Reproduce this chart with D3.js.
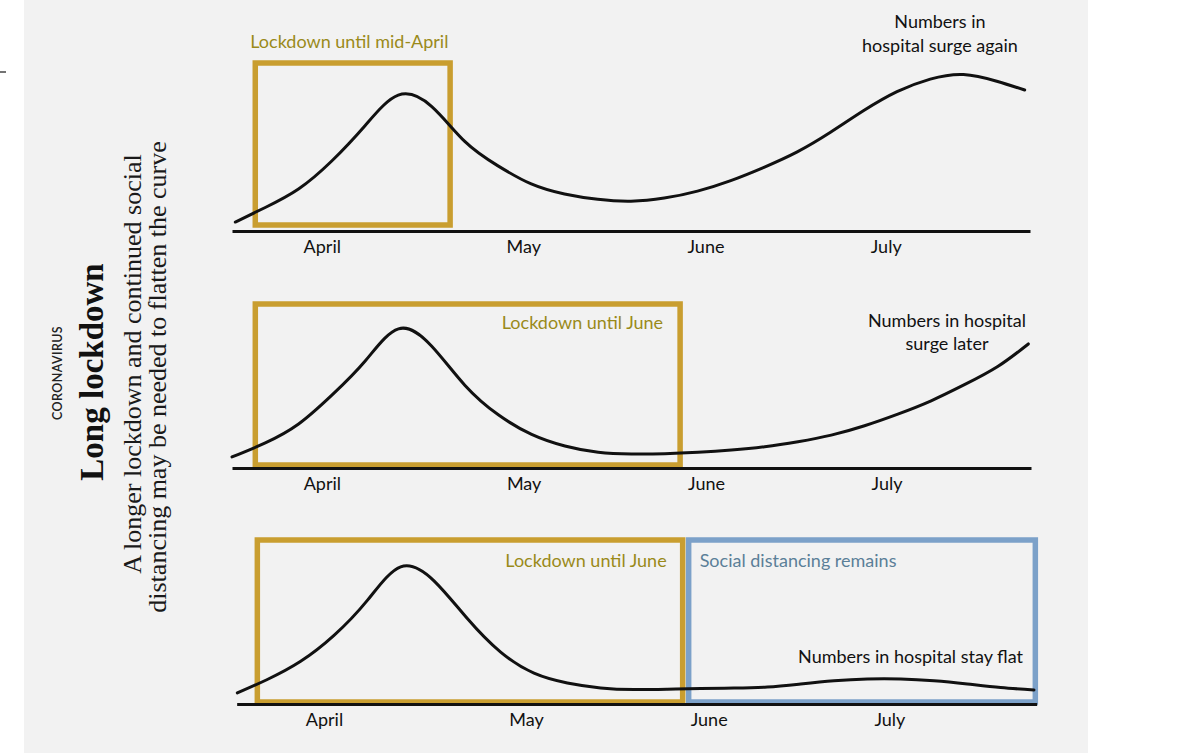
<!DOCTYPE html>
<html>
<head>
<meta charset="utf-8">
<script src="https://cdn.jsdelivr.net/npm/d3@7"></script>
<style>
  html, body { margin: 0; padding: 0; background: #ffffff; }
  svg { display: block; }
</style>
</head>
<body>
<svg id="chart" width="1200" height="753"></svg>
<script>
// ---------- data ----------
const monthNames = ["April", "May", "June", "July"];
const monthDays = [13.5, 43.8, 71.2, 98.3];

// scenario 1: lockdown until mid-April
const daysA = [0.5, 5, 10, 15, 20, 25, 30, 35, 40, 45, 50, 55, 60, 65, 70, 75, 80, 85, 90, 95, 100, 105, 110, 115, 119.2];
const surgeAgain = [6.4, 16.8, 30, 50, 75.2, 97, 89, 64, 46.5, 33.6, 26.4, 22.6, 21.3, 23.5, 28.5, 36, 45.5, 56.5, 70.5, 86, 99.5, 108.5, 111.8, 107, 100.7];

// scenario 2: lockdown until June
const daysB = [0, 5, 10, 15, 20, 25, 30, 35, 40, 45, 50, 55, 60, 65, 70, 75, 80, 85, 90, 95, 100, 105, 110, 115, 119.6];
const surgeLater = [7.9, 17.9, 31.4, 52, 76.4, 99.4, 87, 59, 38, 24, 15.7, 11.2, 10, 10.2, 11.2, 12.8, 15.2, 18.8, 23.5, 30.2, 38.5, 48, 59.5, 72.5, 88.6];

// scenario 3: lockdown until June, then social distancing
const daysC = [0.5, 5, 10, 15, 20, 25, 30, 35, 40, 45, 50, 55, 60, 65, 70, 75, 80, 85, 90, 95, 100, 105, 110, 115, 120];
const stayFlat = [7.9, 17.5, 30.5, 49, 74, 98, 88, 61, 37, 22, 15, 11.5, 10.3, 10.6, 11.1, 11.4, 12.1, 14.3, 16.6, 17.9, 17.9, 16.6, 14.3, 11.8, 10];

// phases (in days)
const midAprilLockdown = [3.5, 32.8];
const juneLockdown = [3.5, 67.3];
const distancingPhase = [68.2, 120.2];

// ---------- style ----------
const GOLD = "#c99e30";
const GOLD_TEXT = "#9a8a1a";
const BLUE = "#7ca1c9";
const BLUE_TEXT = "#5b7f98";
const SANS = "Lato, 'Open Sans', sans-serif";
const SERIF = "'Liberation Serif', 'DejaVu Serif', serif";

const svg = d3.select("#chart");

// background panel
svg.append("rect").attr("x", 24).attr("y", 0).attr("width", 1064).attr("height", 753).attr("fill", "#f2f2f2");
svg.append("line").attr("x1", 0).attr("x2", 6).attr("y1", 72).attr("y2", 72).attr("stroke", "#444").attr("stroke-width", 1.5);

// ---------- title block (rotated) ----------
function vtext(x, y, txt, size, family, weight, fill) {
  return svg.append("text")
    .attr("transform", `translate(${x},${y}) rotate(-90)`)
    .attr("text-anchor", "middle")
    .attr("font-family", family)
    .attr("font-size", size)
    .attr("font-weight", weight)
    .attr("fill", fill)
    .text(txt);
}
vtext(62, 373, "CORONAVIRUS", 12.5, SANS, 600, "#222").attr("letter-spacing", 0.4);
vtext(103, 372, "Long lockdown", 33, SERIF, 700, "#111");
vtext(141, 364, "A longer lockdown and continued social", 26, SERIF, 400, "#1a1a1a");
vtext(166, 377, "distancing may be needed to flatten the curve", 26, SERIF, 400, "#1a1a1a");

// ---------- panels ----------
const panels = [
  { axisY: 231, x0: 232, x1: 1030, days: daysA, values: surgeAgain,
    boxes: [{ range: midAprilLockdown, color: GOLD, top: 168, bottom: 6 }] },
  { axisY: 468, x0: 232, x1: 1031, days: daysB, values: surgeLater,
    boxes: [{ range: juneLockdown, color: GOLD, top: 164, bottom: 3 }] },
  { axisY: 704, x0: 234, x1: 1034, days: daysC, values: stayFlat, axisStart: 0.4, axisEnd: 120.4,
    boxes: [{ range: juneLockdown, color: GOLD, top: 164, bottom: 2 },
            { range: distancingPhase, color: BLUE, top: 164, bottom: 2 }] }
];

panels.forEach((p, i) => {
  const x = d3.scaleLinear().domain([0, 120]).range([p.x0, p.x1]);
  const y = d3.scaleLinear().domain([0, 100]).range([p.axisY, p.axisY - 140]);
  p.x = x; p.y = y;
  const g = svg.append("g");

  // phase boxes
  p.boxes.forEach(b => {
    g.append("rect")
      .attr("x", x(b.range[0]))
      .attr("y", p.axisY - b.top)
      .attr("width", x(b.range[1]) - x(b.range[0]))
      .attr("height", b.top - b.bottom)
      .attr("fill", "none")
      .attr("stroke", b.color)
      .attr("stroke-width", 5.5);
  });

  // axis
  const ax = p.axisStart !== undefined
    ? x.copy().domain([p.axisStart, p.axisEnd]).range([x(p.axisStart), x(p.axisEnd)])
    : x;
  const axis = d3.axisBottom(ax)
    .tickValues(monthDays)
    .tickFormat((d, k) => monthNames[k])
    .tickSize(0)
    .tickSizeOuter(0)
    .tickPadding(9);
  const ag = g.append("g").attr("transform", `translate(0,${p.axisY})`).call(axis);
  ag.select(".domain").attr("stroke", "#111").attr("stroke-width", 3);
  ag.selectAll(".tick text")
    .attr("font-family", SANS)
    .attr("font-size", 18)
    .attr("fill", "#111");

  // curve
  const line = d3.line()
    .x((d, k) => x(p.days[k]))
    .y(d => y(d))
    .curve(d3.curveNatural);
  g.append("path")
    .datum(p.values)
    .attr("d", line)
    .attr("fill", "none")
    .attr("stroke", "#111")
    .attr("stroke-width", 3)
    .attr("stroke-linecap", "round");
});

// ---------- labels ----------
function label(x, y, txt, anchor, fill) {
  return svg.append("text")
    .attr("x", x).attr("y", y)
    .attr("text-anchor", anchor)
    .attr("font-family", SANS)
    .attr("font-size", 18)
    .attr("fill", fill)
    .text(txt);
}
const P1 = panels[0], P2 = panels[1], P3 = panels[2];

label(P1.x(midAprilLockdown[0]) - 5, P1.axisY - 183, "Lockdown until mid-April", "start", GOLD_TEXT);
label(940, P1.axisY - 203, "Numbers in", "middle", "#111");
label(940, P1.axisY - 179, "hospital surge again", "middle", "#111");

label(P2.x(juneLockdown[1]) - 17, P2.axisY - 139, "Lockdown until June", "end", GOLD_TEXT);
label(947, P2.axisY - 141, "Numbers in hospital", "middle", "#111");
label(947, P2.axisY - 118, "surge later", "middle", "#111");

label(P3.x(juneLockdown[1]) - 16, P3.axisY - 137, "Lockdown until June", "end", GOLD_TEXT);
label(P3.x(distancingPhase[0]) + 11, P3.axisY - 137, "Social distancing remains", "start", BLUE_TEXT);
label(1023, P3.axisY - 41, "Numbers in hospital stay flat", "end", "#111");
</script>
</body>
</html>
